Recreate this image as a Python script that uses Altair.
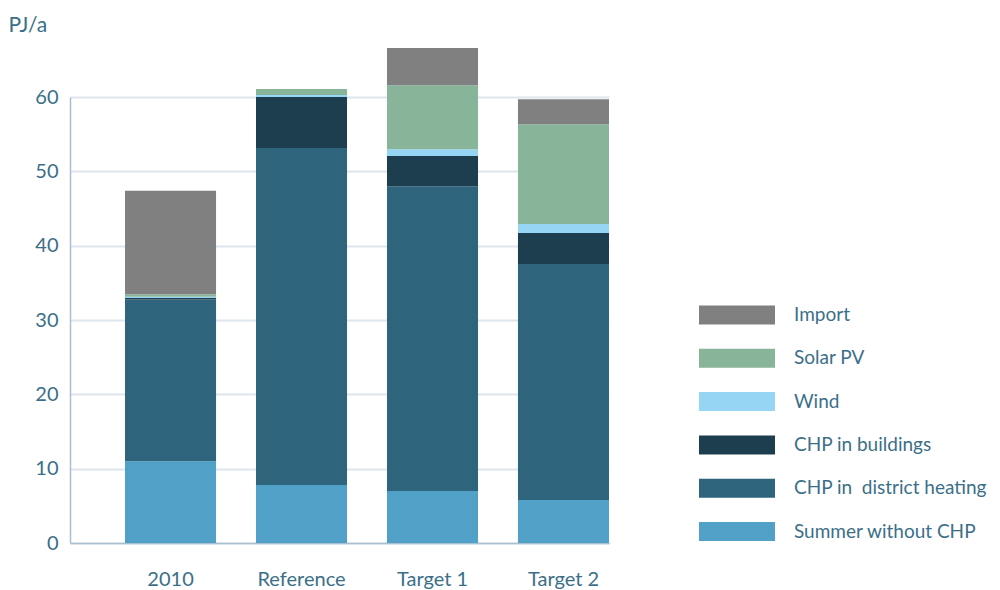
import altair as alt
import pandas as pd

categories = ["2010", "Reference", "Target 1", "Target 2"]
series = ["Summer without CHP", "CHP in\u00a0 district heating", "CHP in buildings", "Wind", "Solar PV", "Import"]
summer = [11.0, 7.8, 7.0, 5.8]
district = [21.75, 45.35, 41.0, 31.75]
buildings = [0.2, 6.85, 4.05, 4.15]
wind = [0.17, 0.27, 0.93, 1.2]
solar = [0.36, 0.8, 8.6, 13.45]
imports = [13.9, 0.0, 5.0, 3.35]
colors = ["#51a0c8", "#2e647c", "#1c3e4f", "#96d5f3", "#88b49a", "#808080"]
y_ticks = [0, 10, 20, 30, 40, 50, 60]

rows = []
for si, (name, vals) in enumerate(zip(series, [summer, district, buildings, wind, solar, imports])):
    for c, v in zip(categories, vals):
        rows.append({"category": c, "series": name, "value": v, "order": si})
df = pd.DataFrame(rows)

FONT = "Lato"
TXT = "#3b6f88"

chart = alt.Chart(df).mark_bar().encode(
    x=alt.X("category:N", sort=categories,
            scale=alt.Scale(paddingInner=0.305, paddingOuter=0.21, align=1),
            axis=alt.Axis(title=None, labelAngle=0, ticks=False, labelPadding=26,
                          domainColor="#a9bfcf", domainWidth=1.5,
                          labelFont=FONT, labelFontSize=20, labelColor=TXT)),
    y=alt.Y("value:Q", stack="zero",
            scale=alt.Scale(domain=[0, 60], nice=False),
            axis=alt.Axis(values=y_ticks, title="PJ/a", titleAngle=0, titleAlign="left",
                          titleBaseline="alphabetic", titleX=-62, titleY=-66,
                          titleFont=FONT, titleFontSize=21, titleFontWeight="normal", titleColor=TXT,
                          ticks=False, labelPadding=12, domainColor="#a9bfcf", domainWidth=1.5,
                          gridColor="#dde6ee", gridWidth=2,
                          labelFont=FONT, labelFontSize=20, labelColor=TXT)),
    color=alt.Color("series:N",
                    scale=alt.Scale(domain=series[::-1], range=colors[::-1]),
                    legend=alt.Legend(title=None, orient="none", legendX=648, legendY=199,
                                      symbolType="M-2,-0.5H2V0.5H-2Z", symbolSize=1444,
                                      symbolStrokeWidth=0, symbolOpacity=1,
                                      labelFont=FONT, labelFontSize=19, labelColor=TXT,
                                      labelLimit=400, labelOffset=38, rowPadding=14.3)),
    order=alt.Order("order:Q", sort="ascending"),
).properties(
    width=539, height=446,
    padding={"left": 0, "top": 6, "right": 0, "bottom": 0},
).configure_view(stroke=None)

chart.save("out.html", embed_options={"renderer": "svg", "actions": False})
